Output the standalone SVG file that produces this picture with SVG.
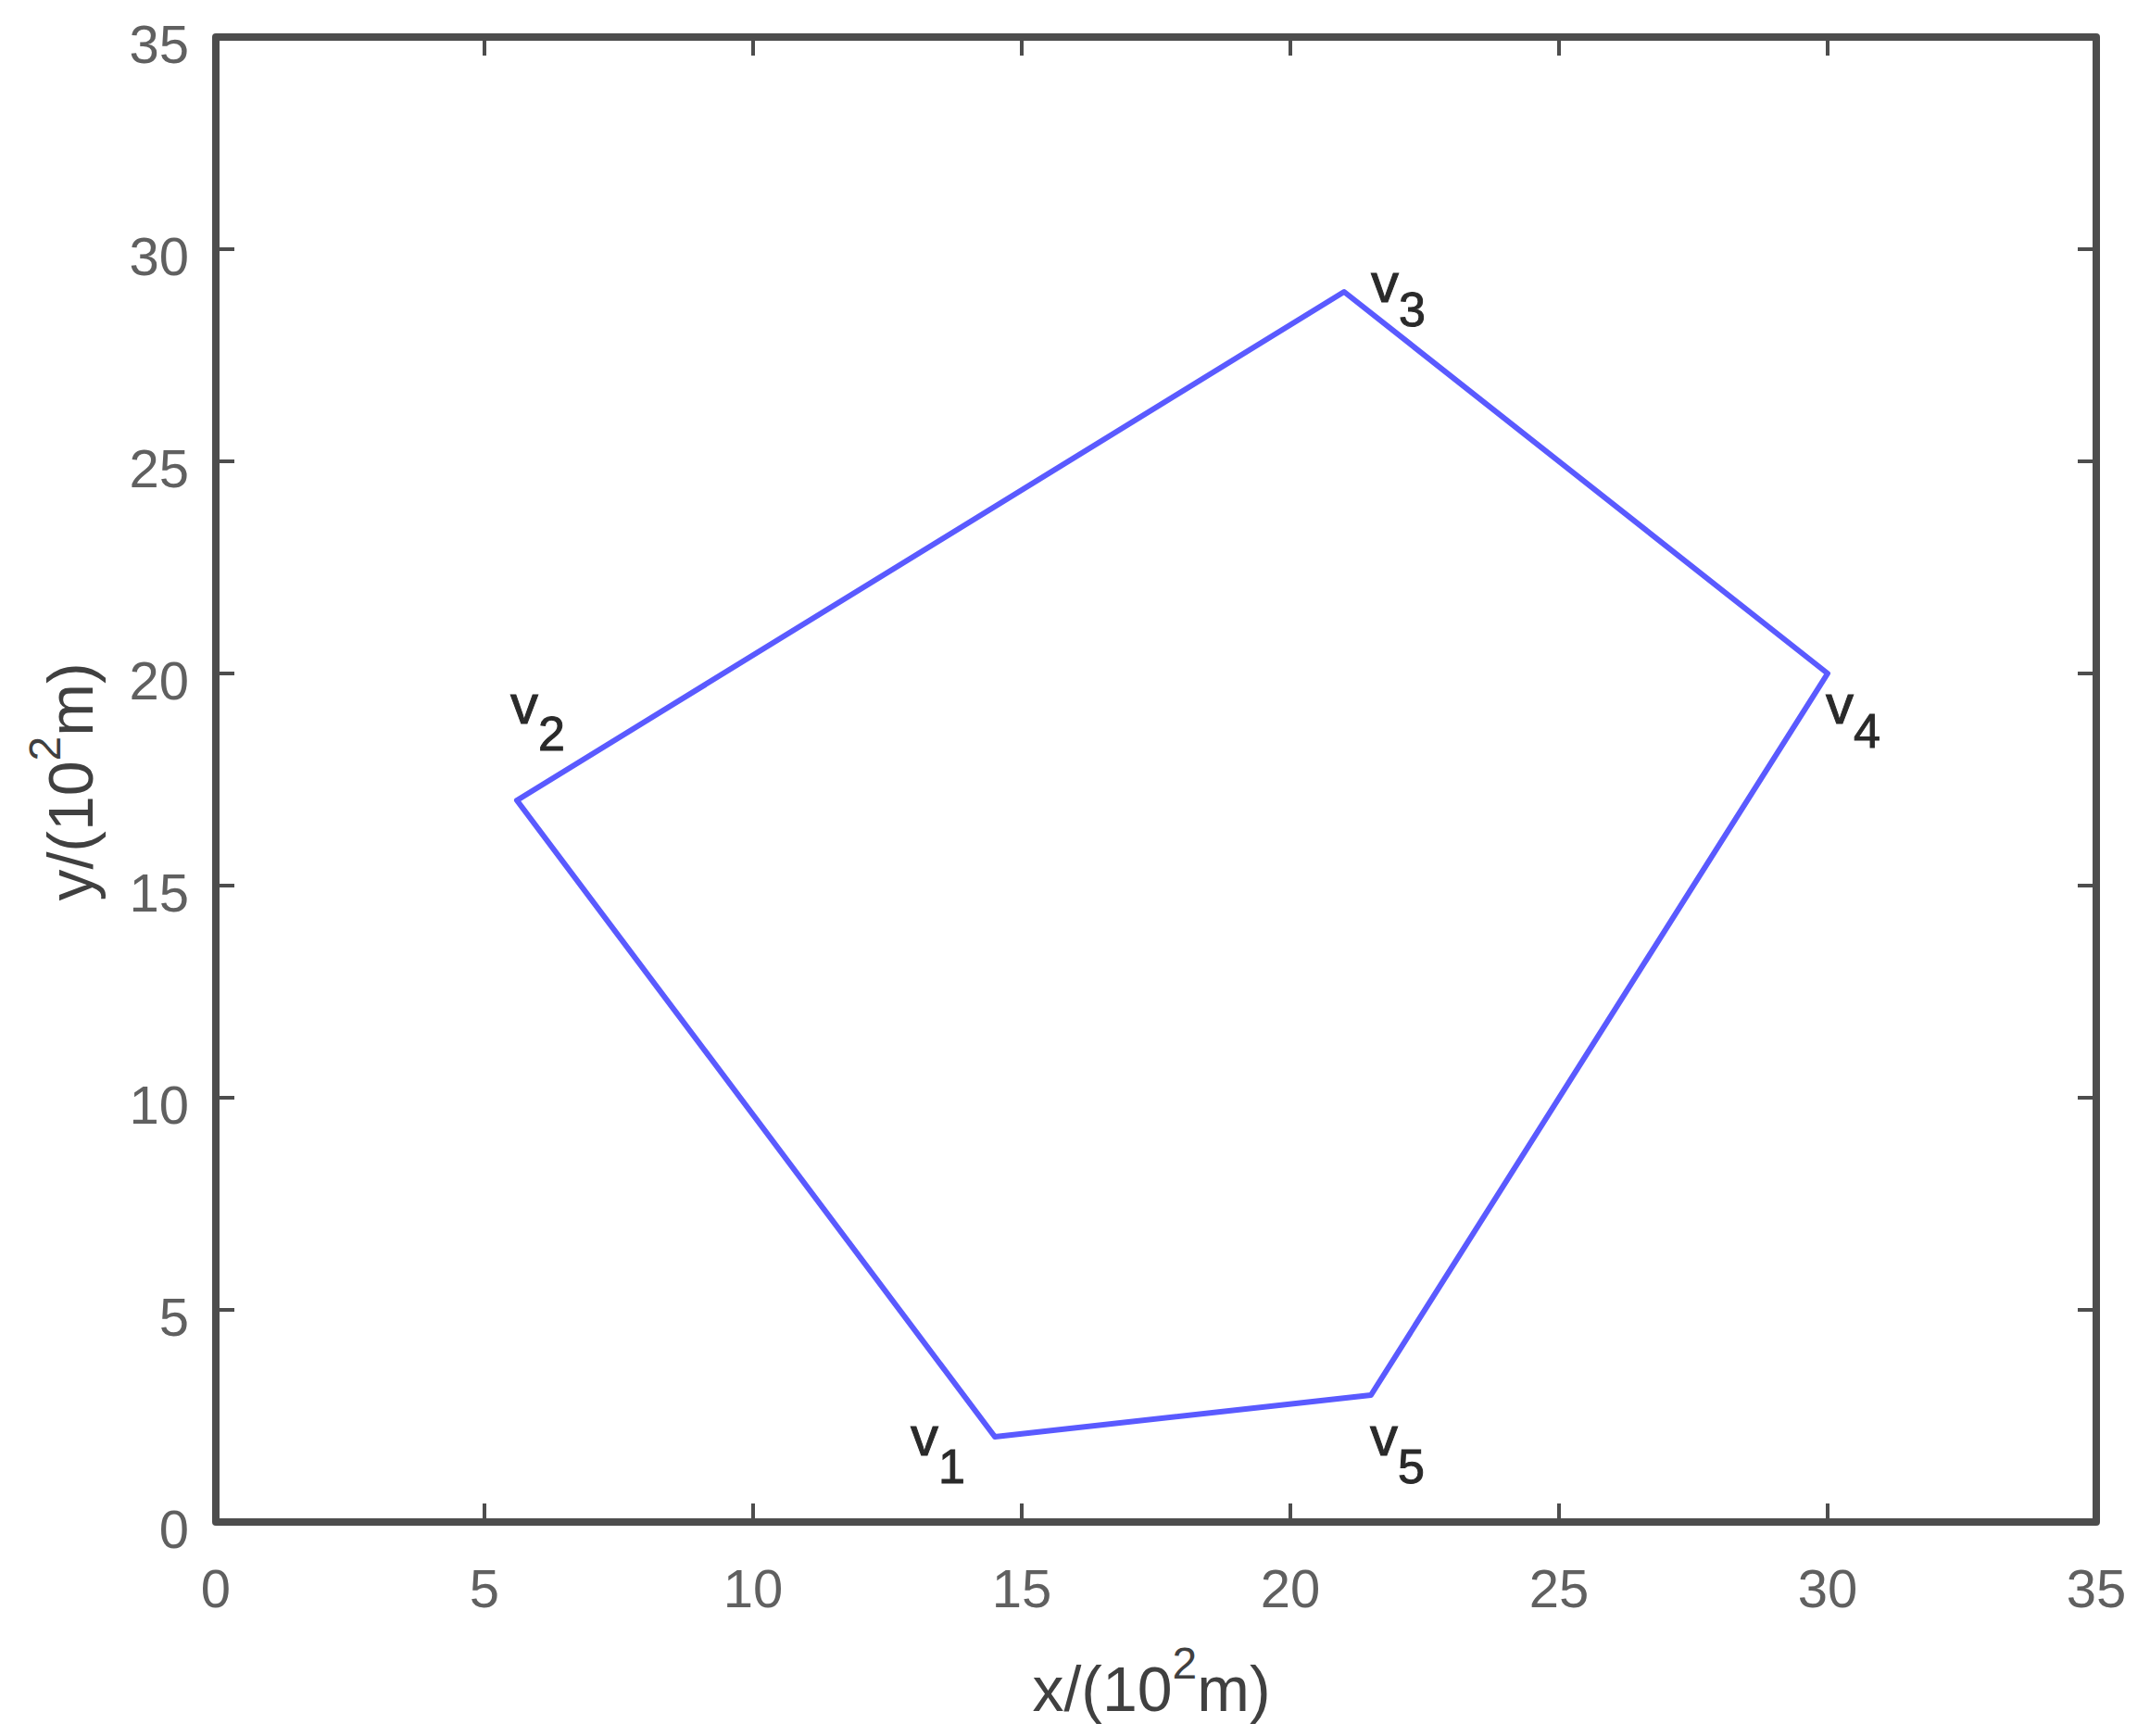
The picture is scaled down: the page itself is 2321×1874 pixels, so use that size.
<svg xmlns="http://www.w3.org/2000/svg" width="2321" height="1874" viewBox="0 0 2321 1874">
<style>
.box{fill:none;stroke:#4d4d4d;stroke-width:8;stroke-linejoin:round}
.tick{stroke:#4d4d4d;stroke-width:4}
.tl{font-family:"Liberation Sans",Arial,sans-serif;font-size:58px;fill:#606060}
.al{font-family:"Liberation Sans",Arial,sans-serif;font-size:68px;fill:#404040}
.vl{font-family:"Liberation Sans",Arial,sans-serif;font-size:60px;fill:#2a2a2a;stroke:#2a2a2a;stroke-width:1}
.poly{fill:none;stroke:#5a5aff;stroke-width:6;stroke-linejoin:round}
</style>
<rect width="2321" height="1874" fill="#fff"/>
<g id="axes">
<rect class="box" x="233" y="40" width="2030" height="1603"/>
<g class="ticks">
<path class="tick" d="M523 1643v-20M813 1643v-20M1103 1643v-20M1393 1643v-20M1683 1643v-20M1973 1643v-20
M523 40v20M813 40v20M1103 40v20M1393 40v20M1683 40v20M1973 40v20
M233 1414h20M233 1185h20M233 956h20M233 727h20M233 498h20M233 269h20
M2263 1414h-20M2263 1185h-20M2263 956h-20M2263 727h-20M2263 498h-20M2263 269h-20"/>
</g>
<g class="tl" text-anchor="middle">
<text x="233" y="1735">0</text>
<text x="523" y="1735">5</text>
<text x="813" y="1735">10</text>
<text x="1103" y="1735">15</text>
<text x="1393" y="1735">20</text>
<text x="1683" y="1735">25</text>
<text x="1973" y="1735">30</text>
<text x="2263" y="1735">35</text>
</g>
<g class="tl" text-anchor="end">
<text x="204" y="1671">0</text>
<text x="204" y="1442">5</text>
<text x="204" y="1213">10</text>
<text x="204" y="984">15</text>
<text x="204" y="755">20</text>
<text x="204" y="526">25</text>
<text x="204" y="297">30</text>
<text x="204" y="68">35</text>
</g>
<text class="al" x="1243" y="1847" text-anchor="middle">x/(10<tspan font-size="48" dy="-35">2</tspan><tspan dy="35">m)</tspan></text>
<text class="al" transform="translate(100 844) rotate(-90)" text-anchor="middle">y/(10<tspan font-size="48" dy="-35">2</tspan><tspan dy="35">m)</tspan></text>
</g>
<g id="connectors">
<polygon class="poly" points="1074,1551 558,864 1451,315 1973,727 1480,1506"/>
</g>
<g id="v1"><text class="vl" x="983" y="1571">v<tspan font-size="52" dy="30">1</tspan></text></g>
<g id="v2"><text class="vl" x="551" y="781">v<tspan font-size="52" dy="29">2</tspan></text></g>
<g id="v3"><text class="vl" x="1480" y="326">v<tspan font-size="52" dy="26">3</tspan></text></g>
<g id="v4"><text class="vl" x="1971" y="781">v<tspan font-size="52" dy="26">4</tspan></text></g>
<g id="v5"><text class="vl" x="1479" y="1571">v<tspan font-size="52" dy="30">5</tspan></text></g>
</svg>
